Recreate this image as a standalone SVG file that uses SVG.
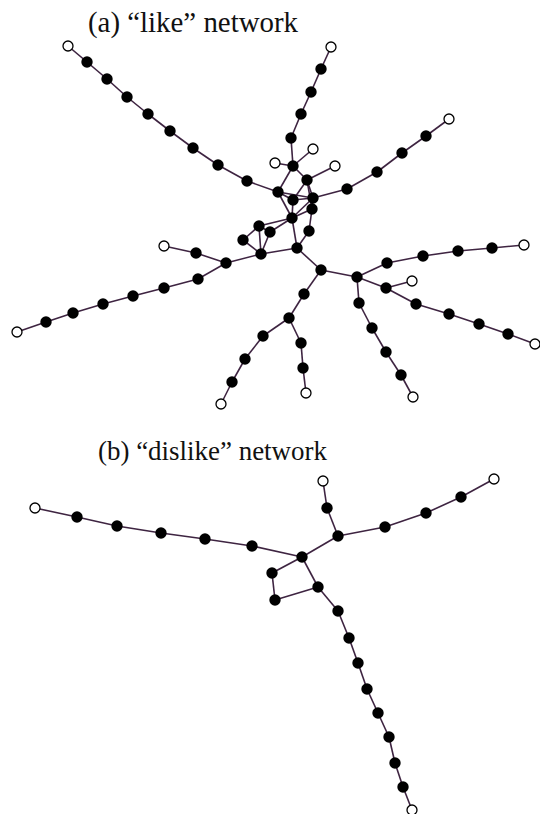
<svg xmlns="http://www.w3.org/2000/svg" width="540" height="814" viewBox="0 0 540 814">
  <style>
    .title { font-family: 'Liberation Serif', 'Times New Roman', Times, serif; fill: #111; }
    .edges line { stroke: #3e2441; stroke-width: 1.6; }
    .n { fill: #000; }
    .o { fill: #fff; stroke: #000; stroke-width: 1.3; }
  </style>
  <rect width="540" height="814" fill="#fff"/>

  <text class="title" x="88" y="32" font-size="30" textLength="210" lengthAdjust="spacingAndGlyphs">(a) “like” network</text>
  <text class="title" x="98" y="460" font-size="27" textLength="229" lengthAdjust="spacingAndGlyphs">(b) “dislike” network</text>

  <!-- (a) like network: edges -->
  <g id="like-edges" class="edges">
    <!-- upper-left chain -->
    <line x1="68" y1="46" x2="87" y2="62"/><line x1="87" y1="62" x2="107" y2="79"/>
    <line x1="107" y1="79" x2="127" y2="97"/><line x1="127" y1="97" x2="148" y2="114"/>
    <line x1="148" y1="114" x2="170" y2="131"/><line x1="170" y1="131" x2="193" y2="148"/>
    <line x1="193" y1="148" x2="218" y2="165"/><line x1="218" y1="165" x2="247" y2="181"/>
    <line x1="247" y1="181" x2="278" y2="192"/>
    <!-- top chain -->
    <line x1="331" y1="47" x2="321" y2="69"/><line x1="321" y1="69" x2="311" y2="92"/>
    <line x1="311" y1="92" x2="301" y2="114"/><line x1="301" y1="114" x2="291" y2="138"/>
    <line x1="291" y1="138" x2="293" y2="166"/>
    <!-- central cluster -->
    <line x1="293" y1="166" x2="275" y2="163"/><line x1="293" y1="166" x2="313" y2="149"/>
    <line x1="293" y1="166" x2="307" y2="180"/><line x1="307" y1="180" x2="335" y2="166"/>
    <line x1="293" y1="166" x2="278" y2="192"/><line x1="307" y1="180" x2="313" y2="198"/>
    <line x1="307" y1="180" x2="293" y2="200"/><line x1="307" y1="180" x2="312" y2="209"/>
    <line x1="278" y1="192" x2="293" y2="200"/><line x1="278" y1="192" x2="313" y2="198"/>
    <line x1="293" y1="200" x2="313" y2="198"/><line x1="313" y1="198" x2="312" y2="209"/>
    <line x1="278" y1="192" x2="292" y2="218"/><line x1="293" y1="200" x2="292" y2="218"/>
    <line x1="292" y1="218" x2="312" y2="209"/><line x1="292" y1="218" x2="313" y2="198"/>
    <line x1="312" y1="209" x2="309" y2="231"/>
    <line x1="292" y1="218" x2="259" y2="226"/><line x1="292" y1="218" x2="270" y2="232"/>
    <line x1="292" y1="218" x2="297" y2="248"/><line x1="309" y1="231" x2="297" y2="248"/>
    <line x1="259" y1="226" x2="243" y2="240"/><line x1="259" y1="226" x2="270" y2="232"/>
    <line x1="259" y1="226" x2="261" y2="254"/><line x1="270" y1="232" x2="261" y2="254"/>
    <line x1="243" y1="240" x2="261" y2="254"/><line x1="261" y1="254" x2="297" y2="248"/>
    <line x1="297" y1="248" x2="321" y2="270"/><line x1="321" y1="270" x2="357" y2="277"/>
    <!-- right upper chain -->
    <line x1="313" y1="198" x2="347" y2="189"/><line x1="347" y1="189" x2="377" y2="172"/>
    <line x1="377" y1="172" x2="402" y2="153"/><line x1="402" y1="153" x2="426" y2="136"/>
    <line x1="426" y1="136" x2="449" y2="119"/>
    <!-- left chains -->
    <line x1="261" y1="254" x2="226" y2="263"/><line x1="226" y1="263" x2="196" y2="253"/>
    <line x1="196" y1="253" x2="164" y2="246"/><line x1="226" y1="263" x2="198" y2="279"/>
    <line x1="198" y1="279" x2="164" y2="288"/><line x1="164" y1="288" x2="133" y2="296"/>
    <line x1="133" y1="296" x2="103" y2="304"/><line x1="103" y1="304" x2="73" y2="313"/>
    <line x1="73" y1="313" x2="46" y2="322"/><line x1="46" y1="322" x2="17" y2="332"/>
    <!-- lower-left chains -->
    <line x1="321" y1="270" x2="304" y2="294"/><line x1="304" y1="294" x2="289" y2="318"/>
    <line x1="289" y1="318" x2="263" y2="336"/><line x1="263" y1="336" x2="245" y2="359"/>
    <line x1="245" y1="359" x2="232" y2="382"/><line x1="232" y1="382" x2="221" y2="404"/>
    <line x1="289" y1="318" x2="301" y2="343"/><line x1="301" y1="343" x2="303" y2="368"/>
    <line x1="303" y1="368" x2="306" y2="393"/>
    <!-- right hub chains -->
    <line x1="357" y1="277" x2="387" y2="263"/><line x1="387" y1="263" x2="423" y2="256"/>
    <line x1="423" y1="256" x2="458" y2="251"/><line x1="458" y1="251" x2="492" y2="248"/>
    <line x1="492" y1="248" x2="524" y2="245"/>
    <line x1="357" y1="277" x2="386" y2="288"/><line x1="386" y1="288" x2="412" y2="281"/>
    <line x1="386" y1="288" x2="416" y2="304"/><line x1="416" y1="304" x2="449" y2="314"/>
    <line x1="449" y1="314" x2="479" y2="324"/><line x1="479" y1="324" x2="508" y2="334"/>
    <line x1="508" y1="334" x2="535" y2="344"/>
    <line x1="357" y1="277" x2="359" y2="303"/><line x1="359" y1="303" x2="372" y2="328"/>
    <line x1="372" y1="328" x2="386" y2="352"/><line x1="386" y1="352" x2="401" y2="375"/>
    <line x1="401" y1="375" x2="413" y2="397"/>
  </g>

  <!-- (a) like network: nodes -->
  <g id="like-nodes">
    <circle class="o" cx="68" cy="46" r="5"/>
    <circle class="n" cx="87" cy="62" r="5.7"/><circle class="n" cx="107" cy="79" r="5.7"/>
    <circle class="n" cx="127" cy="97" r="5.7"/><circle class="n" cx="148" cy="114" r="5.7"/>
    <circle class="n" cx="170" cy="131" r="5.7"/><circle class="n" cx="193" cy="148" r="5.7"/>
    <circle class="n" cx="218" cy="165" r="5.7"/><circle class="n" cx="247" cy="181" r="5.7"/>
    <circle class="o" cx="331" cy="47" r="5"/>
    <circle class="n" cx="321" cy="69" r="5.7"/><circle class="n" cx="311" cy="92" r="5.7"/>
    <circle class="n" cx="301" cy="114" r="5.7"/><circle class="n" cx="291" cy="138" r="5.7"/>
    <circle class="o" cx="275" cy="163" r="5"/><circle class="o" cx="313" cy="149" r="5"/>
    <circle class="o" cx="335" cy="166" r="5"/>
    <circle class="n" cx="293" cy="166" r="5.7"/><circle class="n" cx="307" cy="180" r="5.7"/>
    <circle class="n" cx="278" cy="192" r="5.7"/><circle class="n" cx="293" cy="200" r="5.7"/>
    <circle class="n" cx="313" cy="198" r="5.7"/><circle class="n" cx="312" cy="209" r="5.7"/>
    <circle class="n" cx="292" cy="218" r="5.7"/><circle class="n" cx="309" cy="231" r="5.7"/>
    <circle class="n" cx="259" cy="226" r="5.7"/><circle class="n" cx="270" cy="232" r="5.7"/>
    <circle class="n" cx="243" cy="240" r="5.7"/><circle class="n" cx="261" cy="254" r="5.7"/>
    <circle class="n" cx="297" cy="248" r="5.7"/><circle class="n" cx="321" cy="270" r="5.7"/>
    <circle class="n" cx="357" cy="277" r="5.7"/>
    <circle class="n" cx="347" cy="189" r="5.7"/><circle class="n" cx="377" cy="172" r="5.7"/>
    <circle class="n" cx="402" cy="153" r="5.7"/><circle class="n" cx="426" cy="136" r="5.7"/>
    <circle class="o" cx="449" cy="119" r="5"/>
    <circle class="n" cx="226" cy="263" r="5.7"/><circle class="n" cx="196" cy="253" r="5.7"/>
    <circle class="o" cx="164" cy="246" r="5"/>
    <circle class="n" cx="198" cy="279" r="5.7"/><circle class="n" cx="164" cy="288" r="5.7"/>
    <circle class="n" cx="133" cy="296" r="5.7"/><circle class="n" cx="103" cy="304" r="5.7"/>
    <circle class="n" cx="73" cy="313" r="5.7"/><circle class="n" cx="46" cy="322" r="5.7"/>
    <circle class="o" cx="17" cy="332" r="5"/>
    <circle class="n" cx="304" cy="294" r="5.7"/><circle class="n" cx="289" cy="318" r="5.7"/>
    <circle class="n" cx="263" cy="336" r="5.7"/><circle class="n" cx="245" cy="359" r="5.7"/>
    <circle class="n" cx="232" cy="382" r="5.7"/><circle class="o" cx="221" cy="404" r="5"/>
    <circle class="n" cx="301" cy="343" r="5.7"/><circle class="n" cx="303" cy="368" r="5.7"/>
    <circle class="o" cx="306" cy="393" r="5"/>
    <circle class="n" cx="387" cy="263" r="5.7"/><circle class="n" cx="423" cy="256" r="5.7"/>
    <circle class="n" cx="458" cy="251" r="5.7"/><circle class="n" cx="492" cy="248" r="5.7"/>
    <circle class="o" cx="524" cy="245" r="5"/>
    <circle class="n" cx="386" cy="288" r="5.7"/><circle class="o" cx="412" cy="281" r="5"/>
    <circle class="n" cx="416" cy="304" r="5.7"/><circle class="n" cx="449" cy="314" r="5.7"/>
    <circle class="n" cx="479" cy="324" r="5.7"/><circle class="n" cx="508" cy="334" r="5.7"/>
    <circle class="o" cx="535" cy="344" r="5"/>
    <circle class="n" cx="359" cy="303" r="5.7"/><circle class="n" cx="372" cy="328" r="5.7"/>
    <circle class="n" cx="386" cy="352" r="5.7"/><circle class="n" cx="401" cy="375" r="5.7"/>
    <circle class="o" cx="413" cy="397" r="5"/>
  </g>

  <!-- (b) dislike network: edges -->
  <g id="dislike-edges" class="edges">
    <line x1="35" y1="508" x2="77" y2="517"/><line x1="77" y1="517" x2="117" y2="526"/>
    <line x1="117" y1="526" x2="161" y2="533"/><line x1="161" y1="533" x2="205" y2="539"/>
    <line x1="205" y1="539" x2="252" y2="546"/><line x1="252" y1="546" x2="302" y2="557"/>
    <line x1="302" y1="557" x2="338" y2="536"/><line x1="338" y1="536" x2="327" y2="508"/>
    <line x1="327" y1="508" x2="323" y2="481"/>
    <line x1="338" y1="536" x2="385" y2="527"/><line x1="385" y1="527" x2="426" y2="513"/>
    <line x1="426" y1="513" x2="461" y2="497"/><line x1="461" y1="497" x2="494" y2="479"/>
    <line x1="302" y1="557" x2="272" y2="573"/><line x1="272" y1="573" x2="275" y2="600"/>
    <line x1="275" y1="600" x2="318" y2="587"/><line x1="318" y1="587" x2="302" y2="557"/>
    <line x1="318" y1="587" x2="338" y2="611"/><line x1="338" y1="611" x2="349" y2="638"/>
    <line x1="349" y1="638" x2="358" y2="663"/><line x1="358" y1="663" x2="367" y2="689"/>
    <line x1="367" y1="689" x2="378" y2="713"/><line x1="378" y1="713" x2="389" y2="737"/>
    <line x1="389" y1="737" x2="395" y2="763"/><line x1="395" y1="763" x2="403" y2="787"/>
    <line x1="403" y1="787" x2="412" y2="810"/>
  </g>

  <!-- (b) dislike network: nodes -->
  <g id="dislike-nodes">
    <circle class="o" cx="35" cy="508" r="5"/>
    <circle class="n" cx="77" cy="517" r="5.7"/><circle class="n" cx="117" cy="526" r="5.7"/>
    <circle class="n" cx="161" cy="533" r="5.7"/><circle class="n" cx="205" cy="539" r="5.7"/>
    <circle class="n" cx="252" cy="546" r="5.7"/><circle class="n" cx="302" cy="557" r="5.7"/>
    <circle class="n" cx="338" cy="536" r="5.7"/><circle class="n" cx="327" cy="508" r="5.7"/>
    <circle class="o" cx="323" cy="481" r="5"/>
    <circle class="n" cx="385" cy="527" r="5.7"/><circle class="n" cx="426" cy="513" r="5.7"/>
    <circle class="n" cx="461" cy="497" r="5.7"/><circle class="o" cx="494" cy="479" r="5"/>
    <circle class="n" cx="272" cy="573" r="5.7"/><circle class="n" cx="275" cy="600" r="5.7"/>
    <circle class="n" cx="318" cy="587" r="5.7"/>
    <circle class="n" cx="338" cy="611" r="5.7"/><circle class="n" cx="349" cy="638" r="5.7"/>
    <circle class="n" cx="358" cy="663" r="5.7"/><circle class="n" cx="367" cy="689" r="5.7"/>
    <circle class="n" cx="378" cy="713" r="5.7"/><circle class="n" cx="389" cy="737" r="5.7"/>
    <circle class="n" cx="395" cy="763" r="5.7"/><circle class="n" cx="403" cy="787" r="5.7"/>
    <circle class="o" cx="412" cy="810" r="5"/>
  </g>
</svg>
